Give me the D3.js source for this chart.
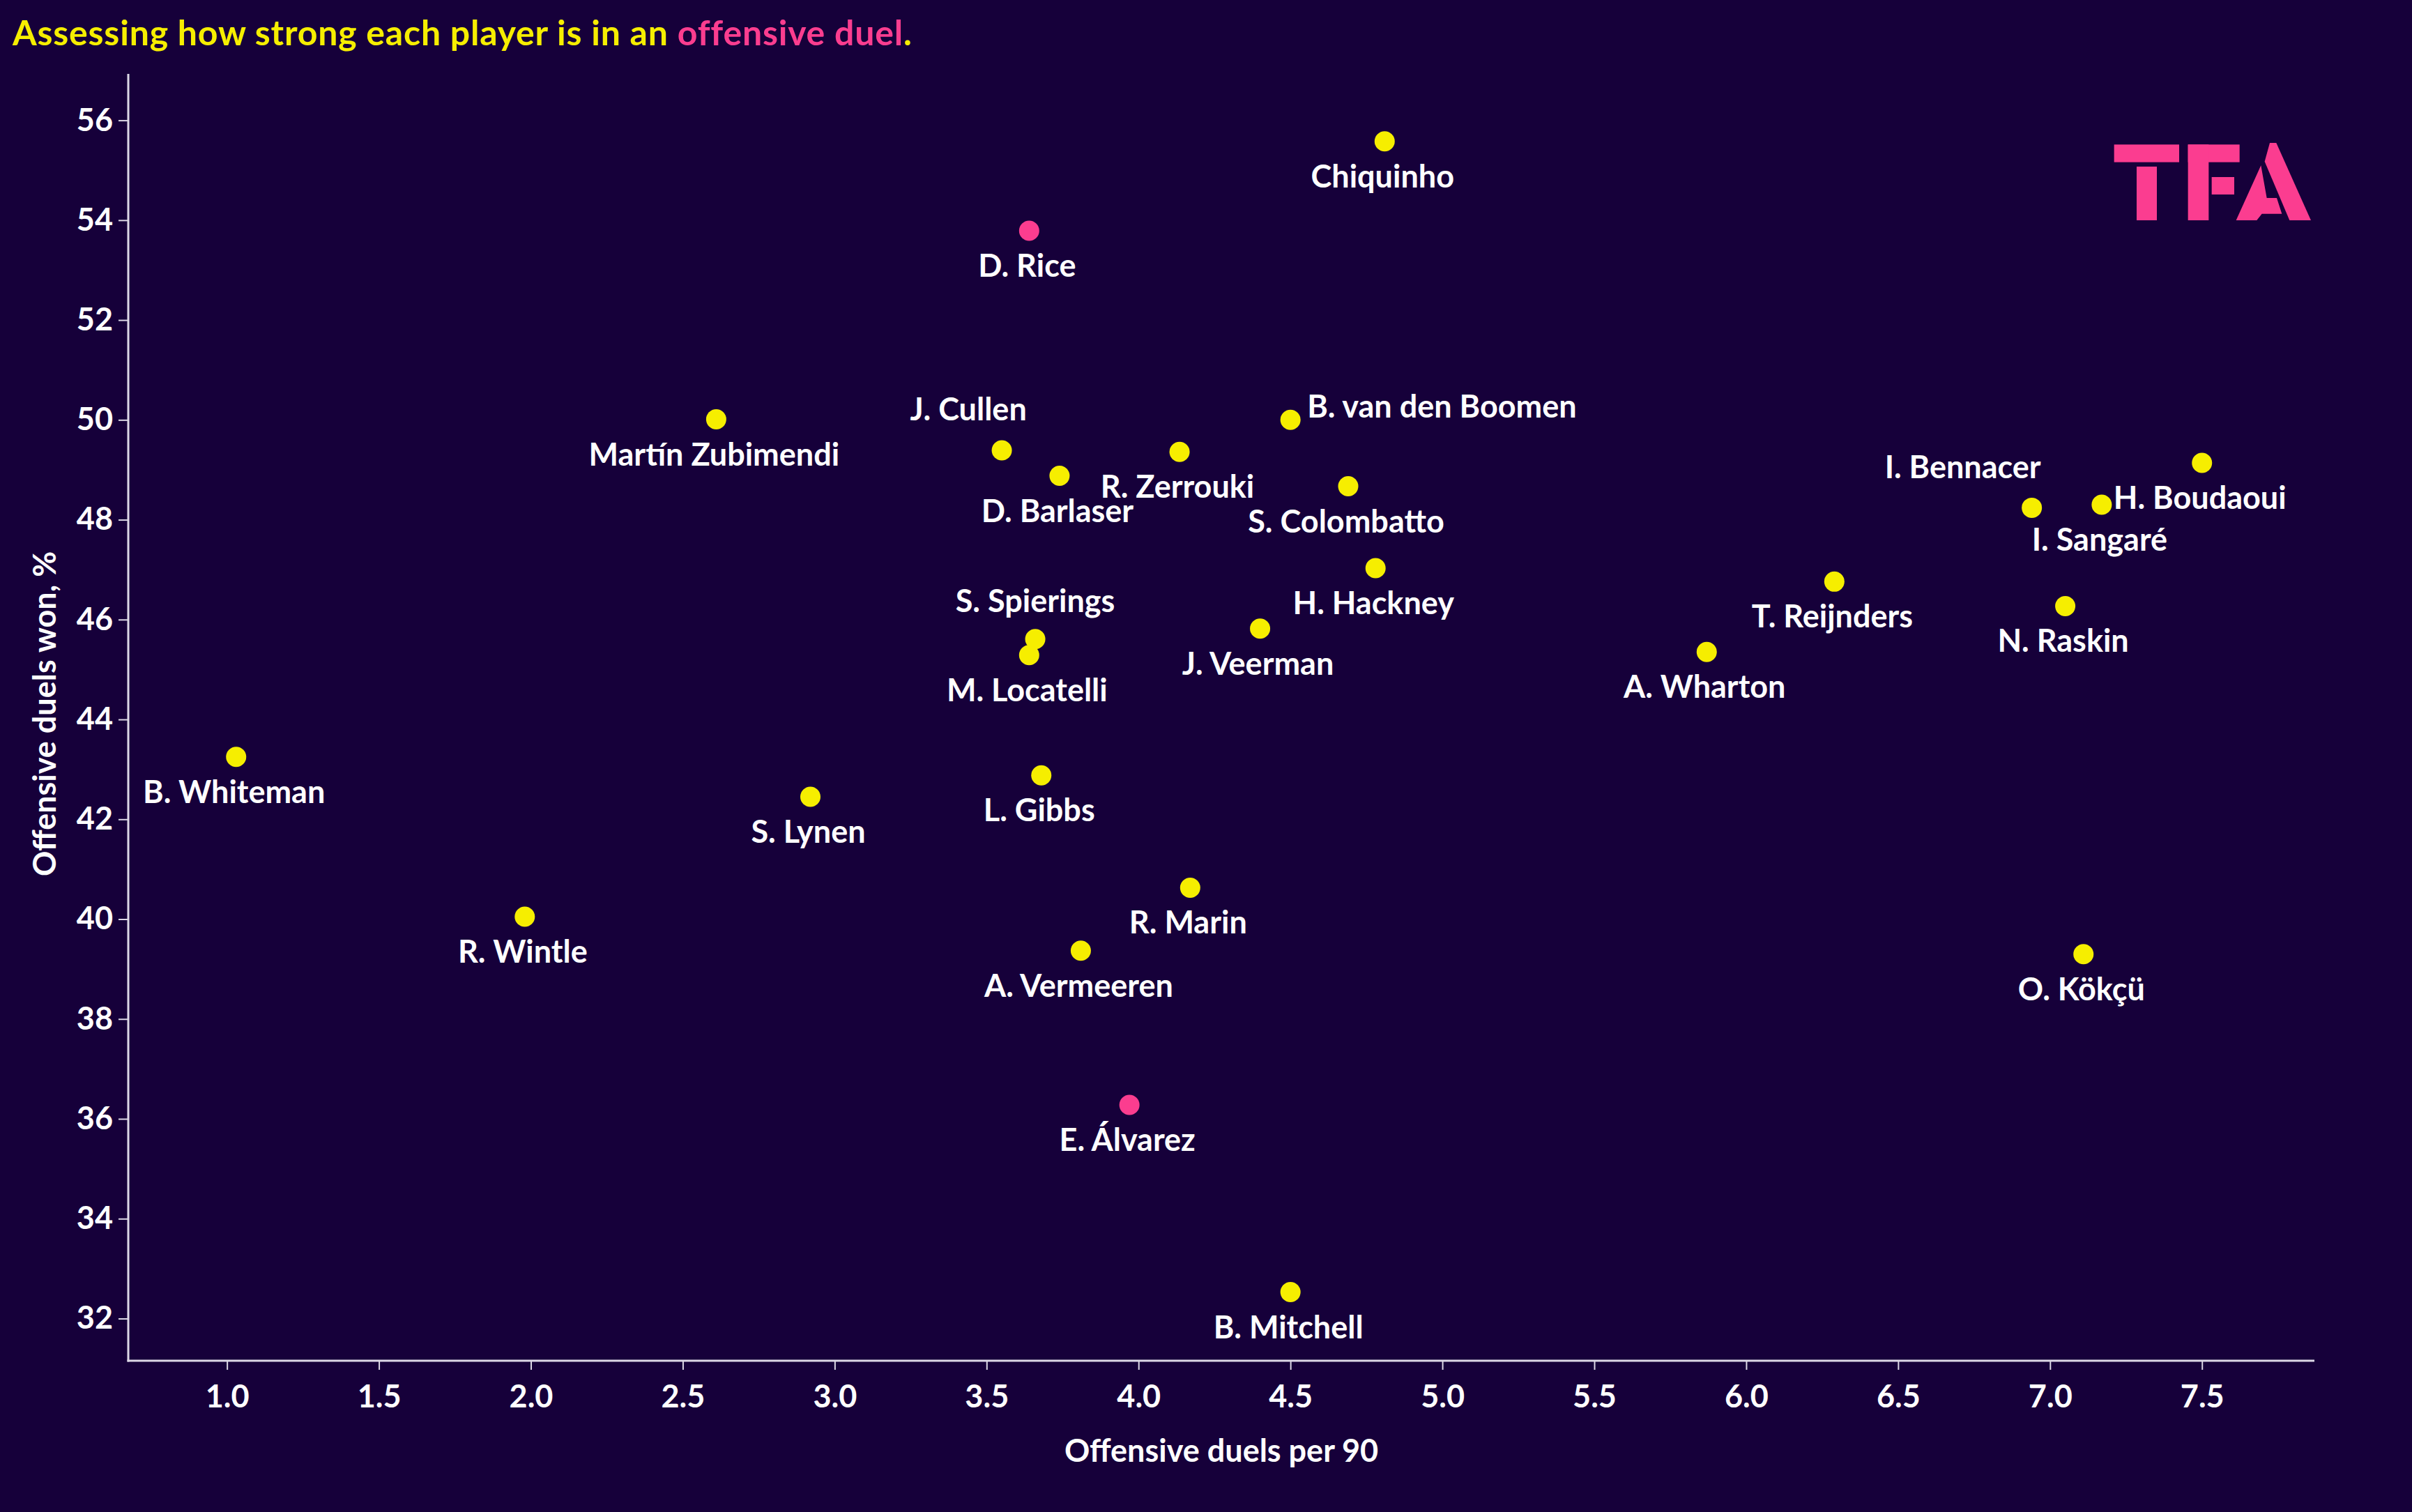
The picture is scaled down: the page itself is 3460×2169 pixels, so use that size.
<!DOCTYPE html>
<html>
<head>
<meta charset="utf-8">
<script src="https://cdn.jsdelivr.net/npm/d3@7"></script>
<style>
  html, body { margin: 0; padding: 0; background: #16003a; }
  svg { display: block; }
  text { font-family: Lato, "Open Sans", sans-serif; font-weight: 700; }
</style>
</head>
<body>
<script>
// ---- Data ----
const players = [
  "Chiquinho", "D. Rice", "Martín Zubimendi", "J. Cullen", "D. Barlaser",
  "R. Zerrouki", "B. van den Boomen", "S. Colombatto", "H. Hackney", "J. Veerman",
  "S. Spierings", "M. Locatelli", "L. Gibbs", "B. Whiteman", "S. Lynen",
  "R. Wintle", "R. Marin", "A. Vermeeren", "E. Álvarez", "B. Mitchell",
  "A. Wharton", "T. Reijnders", "I. Bennacer", "I. Sangaré", "H. Boudaoui",
  "N. Raskin", "O. Kökçü"
];
const duelsPer90 = [
  4.81, 3.64, 2.61, 3.55, 3.74,
  4.135, 4.50, 4.69, 4.78, 4.40,
  3.66, 3.64, 3.68, 1.03, 2.92,
  1.98, 4.17, 3.81, 3.97, 4.50,
  5.87, 6.29, 6.94, 7.17, 7.50,
  7.05, 7.11
];
const duelsWonPct = [
  55.58, 53.79, 50.01, 49.39, 48.88,
  49.36, 50.00, 48.67, 47.03, 45.82,
  45.61, 45.29, 42.88, 43.25, 42.45,
  40.05, 40.63, 39.37, 36.28, 32.53,
  45.35, 46.76, 48.24, 48.30, 49.14,
  46.27, 39.30
];
const highlighted = ["D. Rice", "E. Álvarez"];
const xTicks = [1.0, 1.5, 2.0, 2.5, 3.0, 3.5, 4.0, 4.5, 5.0, 5.5, 6.0, 6.5, 7.0, 7.5];
const yTicks = [32, 34, 36, 38, 40, 42, 44, 46, 48, 50, 52, 54, 56];
const xTitle = "Offensive duels per 90";
const yTitle = "Offensive duels won, %";

// ---- Label placement (layout, not data) ----
const labelPlacement = {
  "J. Cullen":         { dx: -48, dy: -43, anchor: "middle" },
  "S. Spierings":      { dx: 0,   dy: -39, anchor: "middle" },
  "I. Bennacer":       { dx: -99, dy: -42, anchor: "middle" },
  "B. van den Boomen": { dx: 24,  dy: -3,  anchor: "start" }
};
const defaultPlacement = { dx: -3, dy: 66, anchor: "middle" };

// ---- Styles ----
const W = 3460, H = 2169;
const BG = "#16003a";
const YELLOW = "#f6ee00";
const PINK = "#fb3d8f";
const AXIS = "#dcd8e6";

const svg = d3.select("body").append("svg")
  .attr("width", W).attr("height", H);
svg.append("rect").attr("width", W).attr("height", H).attr("fill", BG);

const plot = { left: 184, right: 3320, top: 106, bottom: 1952 };

const x = d3.scaleLinear().domain([0.675, 7.87]).range([plot.left, plot.right]);
const y = d3.scaleLinear().domain([31.155, 56.93]).range([plot.bottom, plot.top]);

// Title
const title = svg.append("text")
  .attr("x", 18).attr("y", 65)
  .attr("font-size", 50)
  .attr("letter-spacing", 0.8)
  .attr("fill", YELLOW);
title.append("tspan").text("Assessing how strong each player is in an ");
title.append("tspan").attr("fill", PINK).text("offensive duel");
title.append("tspan").text(".");

// Axes
const xAxis = d3.axisBottom(x).tickValues(xTicks).tickFormat(d3.format(".1f"))
  .tickSize(13).tickPadding(22);
const yAxis = d3.axisLeft(y).tickValues(yTicks).tickFormat(d3.format("d"))
  .tickSize(14).tickPadding(8);

const gx = svg.append("g").attr("transform", `translate(0,${plot.bottom})`).call(xAxis);
const gy = svg.append("g").attr("transform", `translate(${plot.left},0)`).call(yAxis);

[gx, gy].forEach(g => {
  g.select(".domain").remove();
  g.selectAll(".tick line").attr("stroke", AXIS).attr("stroke-width", 2);
  g.selectAll(".tick text").attr("fill", "#ffffff").attr("font-size", 45)
    .attr("font-family", "Lato, sans-serif").attr("font-weight", 700);
});
gx.selectAll(".tick text").attr("dy", "0.71em");

// axis lines
svg.append("line").attr("x1", plot.left).attr("x2", plot.left)
  .attr("y1", plot.top).attr("y2", plot.bottom + 1.5)
  .attr("stroke", AXIS).attr("stroke-width", 3);
svg.append("line").attr("x1", plot.left - 1.5).attr("x2", plot.right)
  .attr("y1", plot.bottom).attr("y2", plot.bottom)
  .attr("stroke", AXIS).attr("stroke-width", 3);

// Axis titles
svg.append("text")
  .attr("x", (plot.left + plot.right) / 2).attr("y", 2097)
  .attr("text-anchor", "middle").attr("font-size", 45).attr("fill", "#ffffff")
  .text(xTitle);
svg.append("text")
  .attr("transform", `translate(80,1024) rotate(-90)`)
  .attr("text-anchor", "middle").attr("font-size", 45).attr("fill", "#ffffff")
  .text(yTitle);

// Points
const data = players.map((p, i) => ({ name: p, x: duelsPer90[i], y: duelsWonPct[i] }));

svg.append("g").selectAll("circle").data(data).join("circle")
  .attr("cx", d => x(d.x)).attr("cy", d => y(d.y)).attr("r", 14.5)
  .attr("fill", d => highlighted.includes(d.name) ? PINK : YELLOW);

// Labels
svg.append("g").selectAll("text").data(data).join("text")
  .attr("x", d => x(d.x) + (labelPlacement[d.name] || defaultPlacement).dx)
  .attr("y", d => y(d.y) + (labelPlacement[d.name] || defaultPlacement).dy)
  .attr("text-anchor", d => (labelPlacement[d.name] || defaultPlacement).anchor)
  .attr("font-size", 45).attr("fill", "#ffffff")
  .text(d => d.name);

// TFA logo (drawn as shapes)
const logo = svg.append("g").attr("fill", "#fb3d90")
  .attr("transform", "translate(2950,160) scale(0.33333)");
logo.append("rect").attr("x", 248).attr("y", 142).attr("width", 280).attr("height", 76);
logo.append("rect").attr("x", 345).attr("y", 237).attr("width", 87).attr("height", 231);
logo.append("rect").attr("x", 566).attr("y", 142).attr("width", 222).attr("height", 76);
logo.append("rect").attr("x", 566).attr("y", 142).attr("width", 89).attr("height", 326);
logo.append("rect").attr("x", 668).attr("y", 282).attr("width", 97).attr("height", 75);
logo.append("polygon").attr("points", "918,135 946,135 1095,468 1003,468 896,215");
logo.append("polygon").attr("points", "880,232 905,372 948,372 970,440 884,440 862,468 773,468");
</script>
</body>
</html>
